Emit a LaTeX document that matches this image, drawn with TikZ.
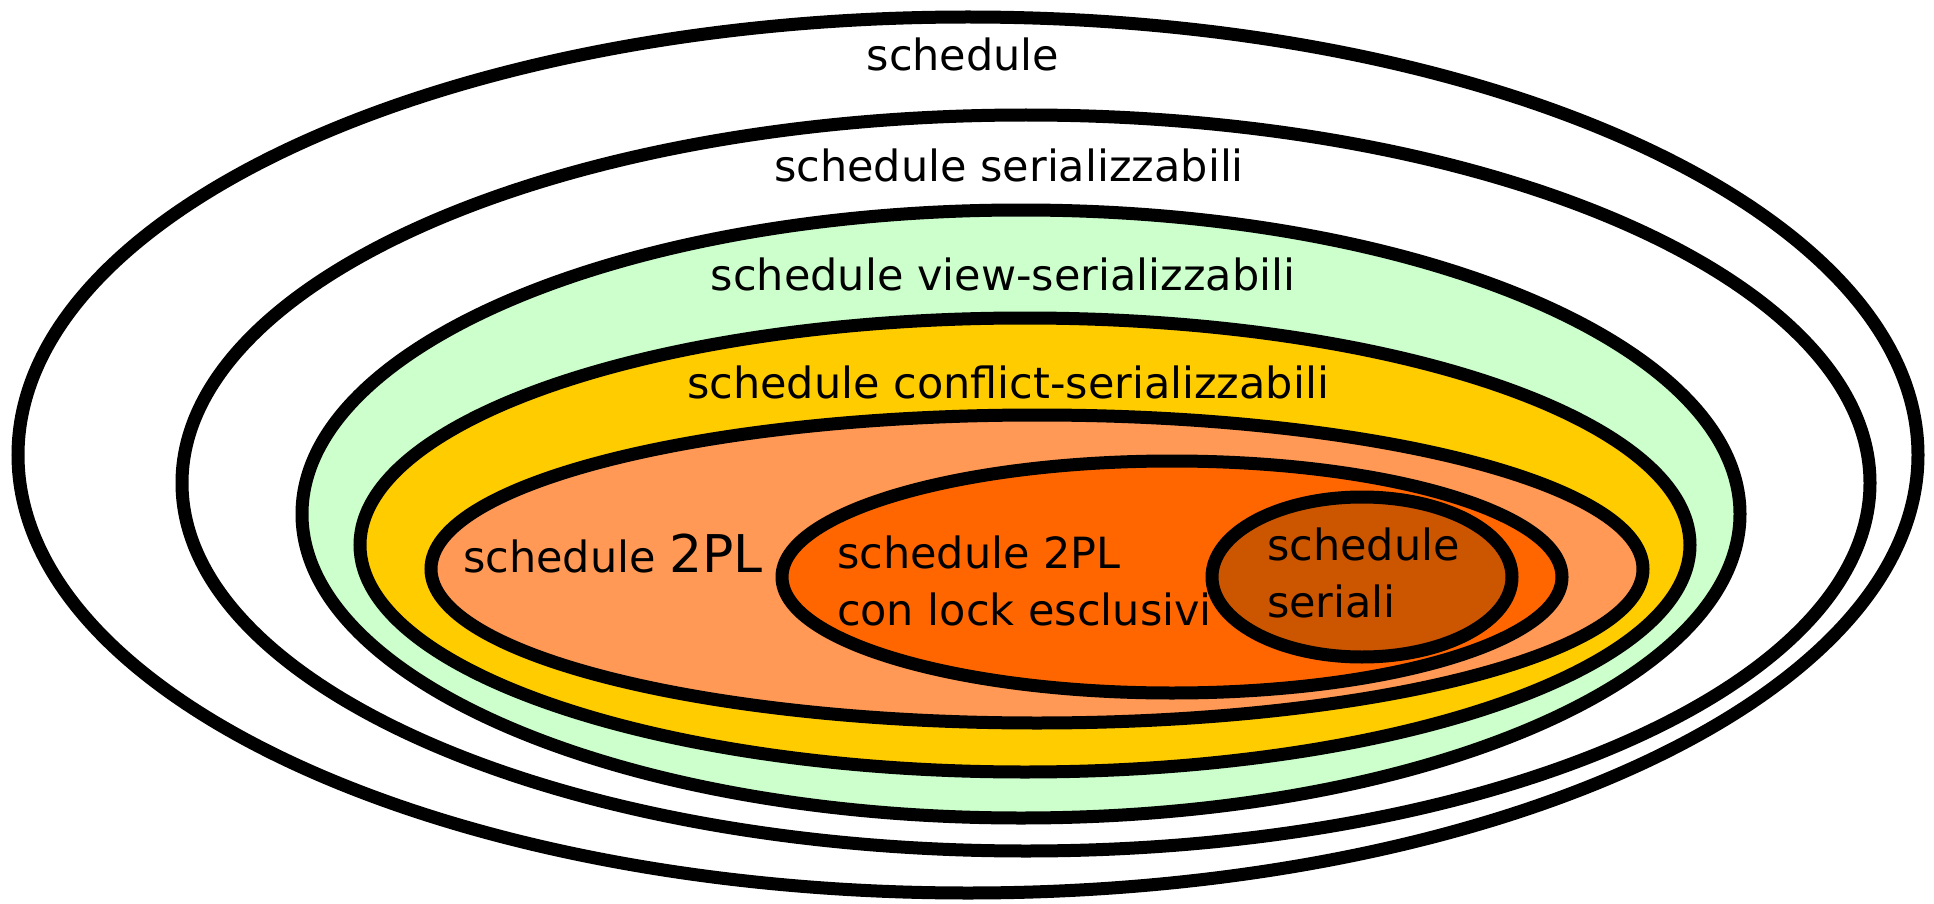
\documentclass[tikz,border=0pt]{standalone}
\usepackage{fontspec}
\setmainfont{DejaVu Sans}
\usetikzlibrary{shapes.geometric}
\definecolor{cgreen}{HTML}{CCFFCC}
\definecolor{cyellow}{HTML}{FFCC00}
\definecolor{clight}{HTML}{FF9955}
\definecolor{corange}{HTML}{FF6600}
\definecolor{cdark}{HTML}{CC5500}
\tikzset{
  setshape/.style={ellipse, draw=black, line width=6.5pt, inner sep=0pt, outer sep=0pt},
  lbl/.style={inner sep=0pt, outer sep=0pt, anchor=base, font=\fontsize{21.5pt}{26pt}\selectfont},
  lblw/.style={lbl, anchor=base west}
}
\begin{document}
\begin{tikzpicture}[x=0.5pt,y=-0.5pt]
\useasboundingbox (0,0) rectangle (1934,904);
\node[setshape, fill=white, minimum width=950pt, minimum height=438pt] (all) at (968,455) {};
\node[setshape, fill=white, minimum width=844pt, minimum height=368pt] (ser) at (1026,483) {};
\node[setshape, fill=cgreen, minimum width=719pt, minimum height=304pt] (view) at (1021,514) {};
\node[setshape, fill=cyellow, minimum width=665pt, minimum height=227pt] (conf) at (1025,545) {};
\node[setshape, fill=clight, minimum width=606pt, minimum height=154pt] (tpl) at (1037,569) {};
\node[setshape, fill=corange, minimum width=390pt, minimum height=116pt] (tplx) at (1172,577) {};
\node[setshape, fill=cdark, minimum width=150pt, minimum height=80pt] (seriali) at (1362,577) {};

\node[lbl] (tall) at (963,71) {schedule};
\node[lbl] (tser) at (1009,182) {schedule serializzabili};
\node[lbl] (tview) at (1003,290) {schedule view-serializzabili};
\node[lbl] (tconf) at (1008,398) {schedule conflict-serializzabili};
\node[lblw] (ttpl) at (463,572) {schedule {\fontsize{26pt}{30pt}\selectfont 2PL}};
\node[lblw] (ttplx1) at (837,568) {schedule 2PL};
\node[lblw] (ttplx2) at (837,625) {con lock esclusivi};
\node[lblw] (tserl1) at (1267,560) {schedule};
\node[lblw] (tserl2) at (1267,617) {seriali};
\end{tikzpicture}
\end{document}
